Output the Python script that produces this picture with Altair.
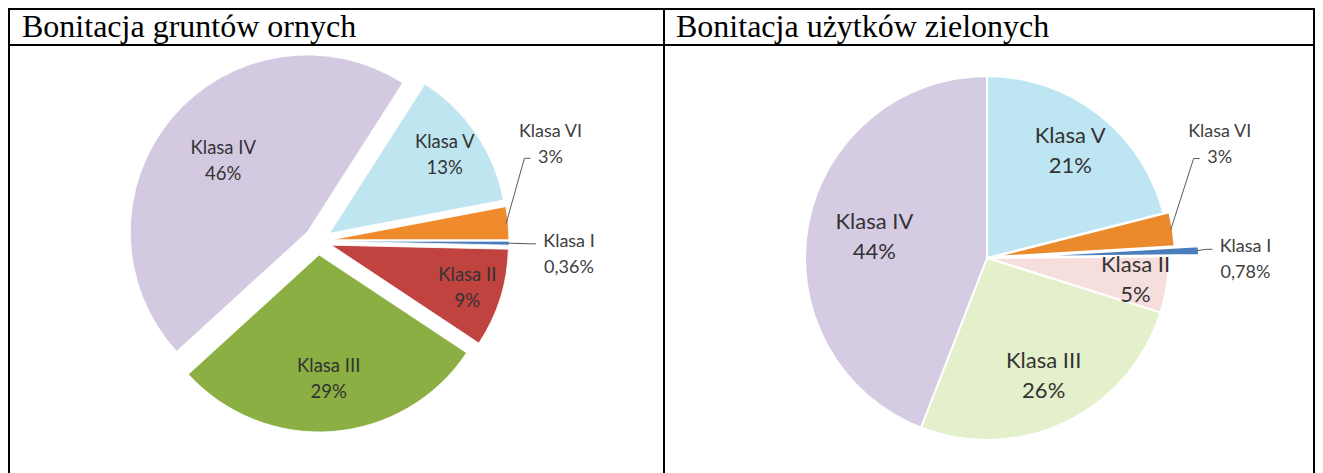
import altair as alt
import pandas as pd

# ---- data ----
kategorie = ["Klasa I", "Klasa II", "Klasa III", "Klasa IV", "Klasa V", "Klasa VI"]
grunty_orne = [0.36, 9, 29, 46, 13, 3]
uzytki_zielone = [0.78, 5, 26, 44, 21, 3]
tytuly = ["Bonitacja gruntów ornych", "Bonitacja użytków zielonych"]


def fmt(v):
    return f"{v:g}".replace(".", ",") + "%"


rows = []
for name, vals in (("orne", grunty_orne), ("zielone", uzytki_zielone)):
    for i, (k, v) in enumerate(zip(kategorie, vals)):
        rows.append({"wykres": name, "kategoria": k, "kolejnosc": i,
                     "wartosc": v, "etykieta": k + "\n" + fmt(v)})
df = pd.DataFrame(rows)

# ---- styles ----
W, H = 1307, 465
colors_orne = ["#4A7EBB", "#C0433F", "#8BAF42", "#D3CAE2", "#BEE5F0", "#EF8B2C"]
colors_ziel = ["#4A7EBB", "#F6DEDD", "#E4EFCB", "#D5CCE4", "#BEE6F2", "#EB8A2C"]
FONT = "Lato"
TXT = "#333333"


def pie(name, cx, cy, R, start_deg, explode, colors, fsize, lh, stroke, swidth):
    ex_expr = " : ".join(
        [f"datum.kategoria == '{k}' ? {v}" for k, v in explode.items()]
    ) + " : 0" if explode else "0"
    col_expr = " : ".join(
        [f"datum.kategoria == '{k}' ? '{c}'" for k, c in zip(kategorie, colors)]
    ) + " : '#999999'"
    base = (
        alt.Chart(df)
        .transform_filter(alt.datum.wykres == name)
        .transform_window(cum="sum(wartosc)", sort=[alt.SortField("kolejnosc")],
                          frame=[None, 0])
        .transform_joinaggregate(total="sum(wartosc)")
        .transform_calculate(
            frac="datum.wartosc / datum.total",
            t1=f"{start_deg}*PI/180 + 2*PI*datum.cum/datum.total",
            kolor=col_expr,
        )
        .transform_calculate(
            t0="datum.t1 - 2*PI*datum.frac",
            e=ex_expr,
        )
        .transform_calculate(mid="(datum.t0 + datum.t1)/2")
        .transform_calculate(
            px=f"{cx} + datum.e*sin(datum.mid)",
            py=f"{cy} - datum.e*cos(datum.mid)",
            outside="datum.frac < 0.04",
        )
        .transform_calculate(
            la="datum.outside ? datum.mid + (datum.frac > 0.02 ? -17 : 2.5)*PI/180 : datum.mid",
            lr=f"datum.outside ? {R}*1.42 : {R}*(0.85 - 0.5*datum.frac) + datum.e",
            edr=f"{R} + datum.e - 2",
        )
        .transform_calculate(
            lx=f"{cx} + datum.lr*sin(datum.la)",
            ly=f"{cy} - datum.lr*cos(datum.la)",
            ex=f"{cx} + datum.edr*sin(datum.mid)",
            ey=f"{cy} - datum.edr*cos(datum.mid)",
        )
        .transform_calculate(
            below="datum.ey > datum.ly",
            ly_in=f"datum.ly - {lh}/2",
            ly_out="datum.ly - 13",
        )
        .transform_calculate(
            ky="datum.below ? datum.ly + 13 : datum.ly - 11",
            kx="datum.below ? datum.lx - 20 : datum.lx - 33",
        )
        .transform_calculate(bx="datum.kx - 6")
    )
    arcs = base.mark_arc(radius=R, stroke=stroke, strokeWidth=swidth).encode(
        x=alt.X("px:Q", scale=None, axis=None),
        y=alt.Y("py:Q", scale=None, axis=None),
        theta=alt.Theta("t0:Q", scale=None),
        theta2="t1:Q",
        color=alt.Color("kolor:N", scale=None, legend=None),
    )
    inside = base.transform_filter("!datum.outside").mark_text(
        font=FONT, fontSize=fsize, lineBreak="\n", lineHeight=lh,
        align="center", baseline="middle", color=TXT,
    ).encode(
        x=alt.X("lx:Q", scale=None, axis=None),
        y=alt.Y("ly_in:Q", scale=None, axis=None),
        text="etykieta:N",
    )
    outs = base.transform_filter("datum.outside")
    out_txt = outs.mark_text(
        font=FONT, fontSize=18, lineBreak="\n", lineHeight=26,
        align="center", baseline="middle", color="#404040",
    ).encode(
        x=alt.X("lx:Q", scale=None, axis=None),
        y=alt.Y("ly_out:Q", scale=None, axis=None),
        text="etykieta:N",
    )
    lead1 = outs.mark_rule(color="#595959", strokeWidth=1).encode(
        x=alt.X("ex:Q", scale=None, axis=None),
        y=alt.Y("ey:Q", scale=None, axis=None),
        x2="bx:Q", y2="ky:Q",
    )
    lead2 = outs.mark_rule(color="#595959", strokeWidth=1).encode(
        x=alt.X("bx:Q", scale=None, axis=None),
        y=alt.Y("ky:Q", scale=None, axis=None),
        x2="kx:Q", y2="ky:Q",
    )
    return [arcs, lead1, lead2, inside, out_txt]


left = pie("orne", 310, 233, 177, 90,
           {k: 14 for k in kategorie}, colors_orne, 18.5, 26, "#ffffff", 0.8)
right = pie("zielone", 979, 250, 182, 86.6,
            {"Klasa I": 30, "Klasa VI": 6}, colors_ziel, 22, 30, "#ffffff", 2)

# ---- table frame and titles ----
def hline(y, x1, x2):
    return alt.Chart(pd.DataFrame({"a": [0]})).mark_rule(color="black", strokeWidth=2).encode(
        x=alt.value(x1), x2=alt.value(x2), y=alt.value(y))


def vline(x, y1, y2):
    return alt.Chart(pd.DataFrame({"a": [0]})).mark_rule(color="black", strokeWidth=2).encode(
        x=alt.value(x), y=alt.value(y1), y2=alt.value(y2))


frame = [hline(1, 0, W), hline(37, 0, W),
         vline(1, 0, H), vline(656, 0, H), vline(1306, 0, H)]

titles = [
    alt.Chart(pd.DataFrame({"t": [tytuly[0]]})).mark_text(
        font="Liberation Serif", fontSize=32, align="left", baseline="alphabetic", color="black"
    ).encode(x=alt.value(14), y=alt.value(29), text="t:N"),
    alt.Chart(pd.DataFrame({"t": [tytuly[1]]})).mark_text(
        font="Liberation Serif", fontSize=32, align="left", baseline="alphabetic", color="black"
    ).encode(x=alt.value(668), y=alt.value(29), text="t:N"),
]

chart = alt.layer(*left, *right, *frame, *titles).properties(
    width=W, height=H, padding=0, autosize=alt.AutoSizeParams(type="none")
).configure_view(stroke=None).configure(background="white")

chart.save("out.html", embed_options={"renderer": "svg", "actions": False})
